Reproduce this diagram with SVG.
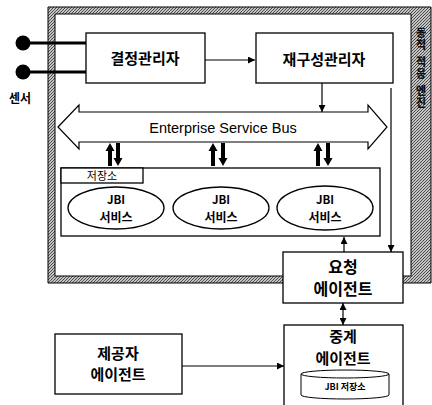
<svg xmlns="http://www.w3.org/2000/svg" width="432" height="405" viewBox="0 0 432 405">
<defs>
<pattern id="hatch" width="3" height="3" patternUnits="userSpaceOnUse">
<rect width="3" height="3" fill="#c4c4c4"/>
<rect x="0" y="0" width="1" height="1" fill="#444"/>
<rect x="2" y="1" width="1" height="1" fill="#555"/>
<rect x="1" y="2" width="1" height="1" fill="#4a4a4a"/>
</pattern>
<marker id="ah" viewBox="0 0 10 10" refX="10" refY="5" markerWidth="8" markerHeight="7" markerUnits="userSpaceOnUse" orient="auto-start-reverse">
<path d="M0,0 L10,5 L0,10 z" fill="#000"/>
</marker>
<g id="upArr"><path d="M-2,23 L-2,8 L-4.5,8 L0,0 L4.5,8 L2,8 L2,23 z" fill="#000"/></g>
<g id="downArr"><path d="M-2,0 L-2,15 L-4.5,15 L0,23 L4.5,15 L2,15 L2,0 z" fill="#000"/></g>
</defs>
<style>
.box{fill:#fff;stroke:#000;stroke-width:1.3}
.thin{fill:none;stroke:#000;stroke-width:1.2}
.kr{font-family:"Noto Sans CJK KR","Noto Sans",sans-serif;font-weight:bold;fill:#000;text-anchor:middle}
.en{font-family:"Liberation Sans",Arial,sans-serif;fill:#000;text-anchor:middle}
</style>
<rect width="432" height="405" fill="#fff"/>

<g id="frame">
<path d="M48,7 H431 V283 H48 Z M55,14 V276 H411 V14 Z" fill="url(#hatch)" fill-rule="evenodd" stroke="#000" stroke-width="1"/>
<text x="421" y="27" font-size="11" letter-spacing="1.5" writing-mode="vertical-rl" style="font-family:'Noto Sans CJK KR',sans-serif;font-weight:900;fill:#111">동적 적응 엔진</text>
</g>

<g id="sensor">
<circle cx="23" cy="43" r="7.5" fill="#000"/>
<circle cx="23" cy="72" r="7.5" fill="#000"/>
<text class="kr" x="20" y="103" font-size="12">센서</text>
</g>

<g id="connectors">
<line x1="23" y1="43" x2="86" y2="43" stroke="#000" stroke-width="3"/>
<line x1="23" y1="72" x2="86" y2="72" stroke="#000" stroke-width="3"/>
<line class="thin" x1="205" y1="60" x2="255" y2="60" marker-end="url(#ah)"/>
<line class="thin" x1="322" y1="83" x2="322" y2="112" marker-end="url(#ah)"/>
<line class="thin" x1="391" y1="88" x2="391" y2="252" marker-end="url(#ah)"/>
<line class="thin" x1="344" y1="252" x2="344" y2="237" marker-end="url(#ah)"/>
<line class="thin" x1="343" y1="311" x2="343" y2="303" marker-end="url(#ah)"/>
<line class="thin" x1="343" y1="311" x2="343" y2="325" marker-end="url(#ah)"/>
<line class="thin" x1="182" y1="366" x2="284" y2="366" marker-end="url(#ah)"/>
<use href="#upArr" x="110" y="143"/>
<use href="#downArr" x="118" y="143"/>
<use href="#upArr" x="213" y="143"/>
<use href="#downArr" x="223" y="143"/>
<use href="#upArr" x="318" y="143"/>
<use href="#downArr" x="328" y="143"/>
</g>

<g id="decision">
<rect class="box" x="86" y="33" width="119" height="50"/>
<text class="kr" x="145" y="64" font-size="15">결정관리자</text>
</g>

<g id="reconfig">
<rect class="box" x="256" y="33" width="137" height="50"/>
<text class="kr" x="324" y="65" font-size="15">재구성관리자</text>
</g>

<g id="esb">
<path d="M58,127 L79,105 L79,112 L368,112 L368,105 L387,127 L368,149 L368,142 L79,142 L79,149 Z" fill="#fff" stroke="#000" stroke-width="1.2"/>
<text class="en" x="223" y="133" font-size="14.5">Enterprise Service Bus</text>
</g>

<g id="repository">
<rect class="box" x="61" y="168" width="319" height="68"/>
<rect class="box" x="61" y="168" width="82" height="15"/>
<text x="102" y="180" font-size="11" style="font-family:'Noto Sans CJK KR',sans-serif;fill:#000;text-anchor:middle">저장소</text>
</g>

<g id="jbi1">
<ellipse class="box" cx="116" cy="208" rx="48" ry="21"/>
<text class="kr" x="116" y="204" font-size="11.5">JBI</text>
<text class="kr" x="116" y="222" font-size="12">서비스</text>
</g>
<g id="jbi2">
<ellipse class="box" cx="221" cy="208" rx="48" ry="21"/>
<text class="kr" x="221" y="204" font-size="11.5">JBI</text>
<text class="kr" x="221" y="222" font-size="12">서비스</text>
</g>
<g id="jbi3">
<ellipse class="box" cx="325" cy="208" rx="48" ry="22"/>
<text class="kr" x="325" y="204" font-size="11.5">JBI</text>
<text class="kr" x="325" y="222" font-size="12">서비스</text>
</g>

<g id="request">
<rect class="box" x="283" y="252" width="120" height="51"/>
<text class="kr" x="343" y="273" font-size="16">요청</text>
<text class="kr" x="343" y="295" font-size="16">에이전트</text>
</g>

<g id="relay">
<rect class="box" x="284" y="325" width="119" height="85"/>
<text class="kr" x="343" y="342" font-size="15">중계</text>
<text class="kr" x="343" y="364" font-size="15">에이전트</text>
<path d="M301,374 A44,4 0 0 1 389,374 L389,395 A44,4 0 0 1 301,395 Z" fill="#fff" stroke="#000" stroke-width="1"/>
<path d="M301,374 A44,4 0 0 0 389,374" fill="none" stroke="#000" stroke-width="1"/>
<text class="kr" x="345" y="390" font-size="9">JBI 저장소</text>
</g>

<g id="provider">
<rect class="box" x="55" y="334" width="127" height="60"/>
<text class="kr" x="118" y="359" font-size="15">제공자</text>
<text class="kr" x="118" y="380" font-size="15">에이전트</text>
</g>
</svg>
